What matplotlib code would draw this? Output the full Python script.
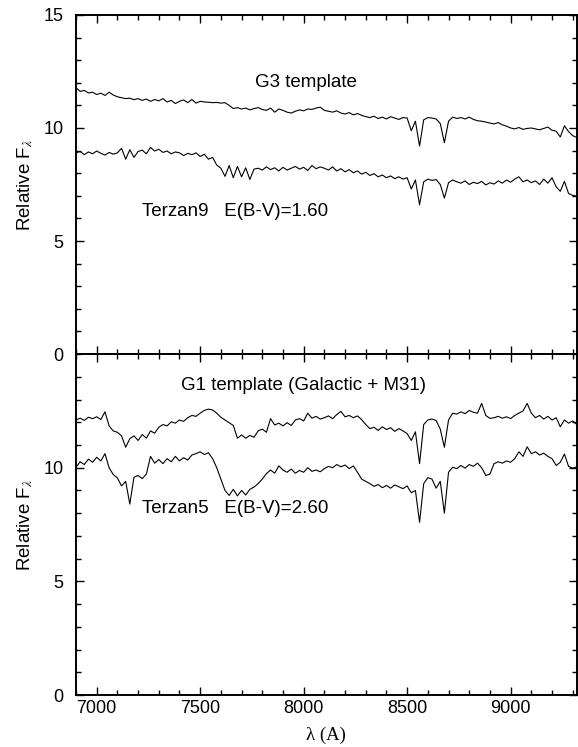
import numpy as np
import matplotlib
matplotlib.use("Agg")
import matplotlib.pyplot as plt
from matplotlib.ticker import MultipleLocator, FixedLocator

plt.rcParams["font.family"] = ["Liberation Sans", "DejaVu Sans"]
plt.rcParams["mathtext.fontset"] = "stix"

# wavelength sampling (Angstrom), 20 A steps
wave = np.arange(6900, 9321, 20)

# ---- upper panel: G3 template and Terzan 9 ----
g3_template = [
    11.78, 11.62, 11.66, 11.55, 11.58, 11.48, 11.54, 11.44, 11.58, 11.46,
    11.38, 11.34, 11.30, 11.32, 11.25, 11.30, 11.22, 11.28, 11.18, 11.26,
    11.20, 11.30, 11.15, 11.22, 11.08, 11.18, 11.24, 11.12, 11.26, 11.10,
    11.18, 11.15, 11.14, 11.12, 11.13, 11.10, 11.12, 11.00, 10.86, 10.90,
    10.84, 10.88, 10.80, 10.86, 10.90, 10.82, 10.78, 10.88, 10.70, 10.84,
    10.78, 10.70, 10.66, 10.74, 10.80, 10.76, 10.84, 10.82, 10.88, 10.92,
    10.78, 10.74, 10.70, 10.76, 10.66, 10.62, 10.68, 10.58, 10.64, 10.56,
    10.50, 10.46, 10.52, 10.42, 10.48, 10.40, 10.50, 10.44, 10.38, 10.46,
    10.44, 9.88, 10.30, 9.20, 10.36, 10.46, 10.44, 10.40, 10.20, 9.35,
    10.30, 10.48, 10.42, 10.46, 10.40, 10.48, 10.38, 10.32, 10.30, 10.26,
    10.22, 10.18, 10.24, 10.14, 10.08, 10.00, 9.96, 10.02, 9.94, 9.98,
    10.00, 9.96, 9.92, 9.98, 10.04, 9.90, 9.86, 9.60, 10.10, 9.84,
    9.66, 9.58,
]
terzan9 = [
    8.90, 8.96, 8.82, 8.94, 8.86, 8.98, 8.88, 8.80, 8.92, 8.84,
    8.90, 9.10, 8.62, 9.04, 8.70, 8.96, 9.02, 8.86, 9.14, 8.98,
    9.06, 8.92, 8.98, 8.86, 8.94, 8.90, 8.78, 8.88, 8.82, 8.90,
    8.74, 8.84, 8.62, 8.70, 8.36, 8.22, 7.86, 8.34, 7.80, 8.30,
    7.84, 8.24, 7.72, 8.18, 8.22, 8.14, 8.28, 8.16, 8.24, 8.10,
    8.26, 8.14, 8.22, 8.30, 8.18, 8.26, 8.12, 8.34, 8.20, 8.28,
    8.22, 8.14, 8.28, 8.10, 8.20, 8.06, 8.16, 8.02, 8.10, 7.96,
    8.04, 7.90, 7.98, 7.84, 7.92, 7.80, 7.88, 7.76, 7.84, 7.74,
    7.80, 7.30, 7.70, 6.60, 7.62, 7.74, 7.68, 7.72, 7.50, 6.90,
    7.58, 7.70, 7.62, 7.56, 7.66, 7.50, 7.60, 7.54, 7.64, 7.48,
    7.58, 7.52, 7.66, 7.56, 7.70, 7.60, 7.74, 7.84, 7.62, 7.70,
    7.58, 7.66, 7.50, 7.74, 7.56, 7.80, 7.40, 7.20, 7.64, 7.10,
    7.02, 6.98,
]

# ---- lower panel: G1 template and Terzan 5 ----
g1_template = [
    12.10, 12.18, 12.08, 12.22, 12.16, 12.24, 12.12, 12.46, 11.84, 11.62,
    11.56, 11.40, 10.90, 11.28, 11.40, 11.20, 11.46, 11.30, 11.62, 11.52,
    11.78, 11.90, 11.84, 12.02, 11.96, 12.10, 12.04, 12.20, 12.30, 12.26,
    12.40, 12.52, 12.58, 12.54, 12.40, 12.22, 12.10, 11.98, 11.86, 11.30,
    11.44, 11.30, 11.42, 11.34, 11.62, 11.70, 11.56, 12.16, 11.88, 11.96,
    11.84, 11.98, 11.86, 12.10, 12.16, 12.06, 12.40, 12.18, 12.26, 12.14,
    12.20, 12.28, 12.16, 12.34, 12.48, 12.24, 12.30, 12.20, 12.28, 12.12,
    11.90, 11.72, 11.78, 11.64, 11.80, 11.68, 11.76, 11.60, 11.72, 11.62,
    11.50, 11.20, 11.58, 10.18, 11.90, 12.10, 12.14, 12.08, 11.70, 10.90,
    12.10, 12.40, 12.36, 12.46, 12.38, 12.52, 12.44, 12.40, 12.83, 12.30,
    12.17, 12.20, 12.26, 12.18, 12.24, 12.16, 12.30, 12.40, 12.50, 12.83,
    12.40, 12.20, 12.30, 12.14, 12.26, 12.10, 12.20, 11.80, 12.10, 11.96,
    12.06, 11.90,
]
terzan5 = [
    10.02, 10.26, 10.14, 10.38, 10.24, 10.46, 10.30, 10.62, 10.00, 9.70,
    9.55, 9.20, 9.40, 8.40, 9.58, 9.66, 9.52, 9.72, 10.50, 10.20,
    10.36, 10.18, 10.40, 10.26, 10.50, 10.30, 10.44, 10.34, 10.56, 10.62,
    10.70, 10.58, 10.66, 10.40, 10.00, 9.50, 9.00, 8.78, 9.05, 8.76,
    9.00, 8.80, 9.05, 9.15, 9.30, 9.50, 9.74, 9.90, 9.76, 10.08,
    9.90, 9.80, 9.94, 9.76, 9.88, 9.80, 10.00, 9.84, 9.90, 9.82,
    9.96, 10.06, 10.00, 10.14, 10.04, 10.12, 9.96, 10.08, 9.80, 9.50,
    9.40, 9.30, 9.18, 9.26, 9.12, 9.22, 9.10, 9.24, 9.16, 9.08,
    9.20, 8.90, 9.00, 7.60, 9.30, 9.56, 9.50, 9.10, 9.40, 8.00,
    9.80, 10.02, 9.96, 10.10, 9.98, 10.14, 10.06, 10.20, 10.00, 9.66,
    9.72, 10.18, 10.26, 10.20, 10.30, 10.24, 10.40, 10.70, 10.50, 10.92,
    10.62, 10.70, 10.56, 10.64, 10.50, 10.40, 10.10, 10.24, 10.60, 10.06,
    9.98, 10.04,
]

fig = plt.figure(figsize=(5.78, 7.47), dpi=100)
ax_top = fig.add_axes([0.1315, 0.526, 0.8665, 0.454])
ax_bot = fig.add_axes([0.1315, 0.0696, 0.8665, 0.4564])

for ax in (ax_top, ax_bot):
    ax.set_xlim(6900, 9320)
    ax.set_ylim(0, 15)
    ax.xaxis.set_major_locator(MultipleLocator(500))
    ax.xaxis.set_minor_locator(MultipleLocator(100))
    ax.yaxis.set_minor_locator(MultipleLocator(1))
    ax.tick_params(which="both", direction="in", top=True, right=True,
                   labelsize=13, width=1.0)
    ax.tick_params(which="major", length=6)
    ax.tick_params(which="minor", length=3.5)
    ax.tick_params(axis="y", which="major", pad=9)
    for sp in ax.spines.values():
        sp.set_linewidth(1.4)
    ax.set_ylabel(r"Relative F$_{\lambda}$", fontsize=13.5, labelpad=6)

ax_top.yaxis.set_major_locator(FixedLocator([0, 5, 10, 15]))
ax_bot.yaxis.set_major_locator(FixedLocator([0, 5, 10]))
ax_top.tick_params(labelbottom=False)

ax_top.plot(wave, g3_template, color="black", lw=0.8)
ax_top.plot(wave, terzan9, color="black", lw=0.8)
ax_bot.plot(wave, g1_template, color="black", lw=0.8)
ax_bot.plot(wave, terzan5, color="black", lw=0.8)

ax_top.text(7767, 12.0, "G3 template", fontsize=13.5, va="center")
ax_top.text(7217, 6.3, "Terzan9   E(B-V)=1.60", fontsize=13.5, va="center")
ax_bot.text(7405, 13.6, "G1 template (Galactic + M31)", fontsize=13.5, va="center")
ax_bot.text(7217, 8.2, "Terzan5   E(B-V)=2.60", fontsize=13.5, va="center")

ax_bot.set_xlabel("λ (A)", fontsize=13.5, family=["Liberation Serif", "DejaVu Serif"],
                  labelpad=7)

fig.savefig("out.png", dpi=100)
